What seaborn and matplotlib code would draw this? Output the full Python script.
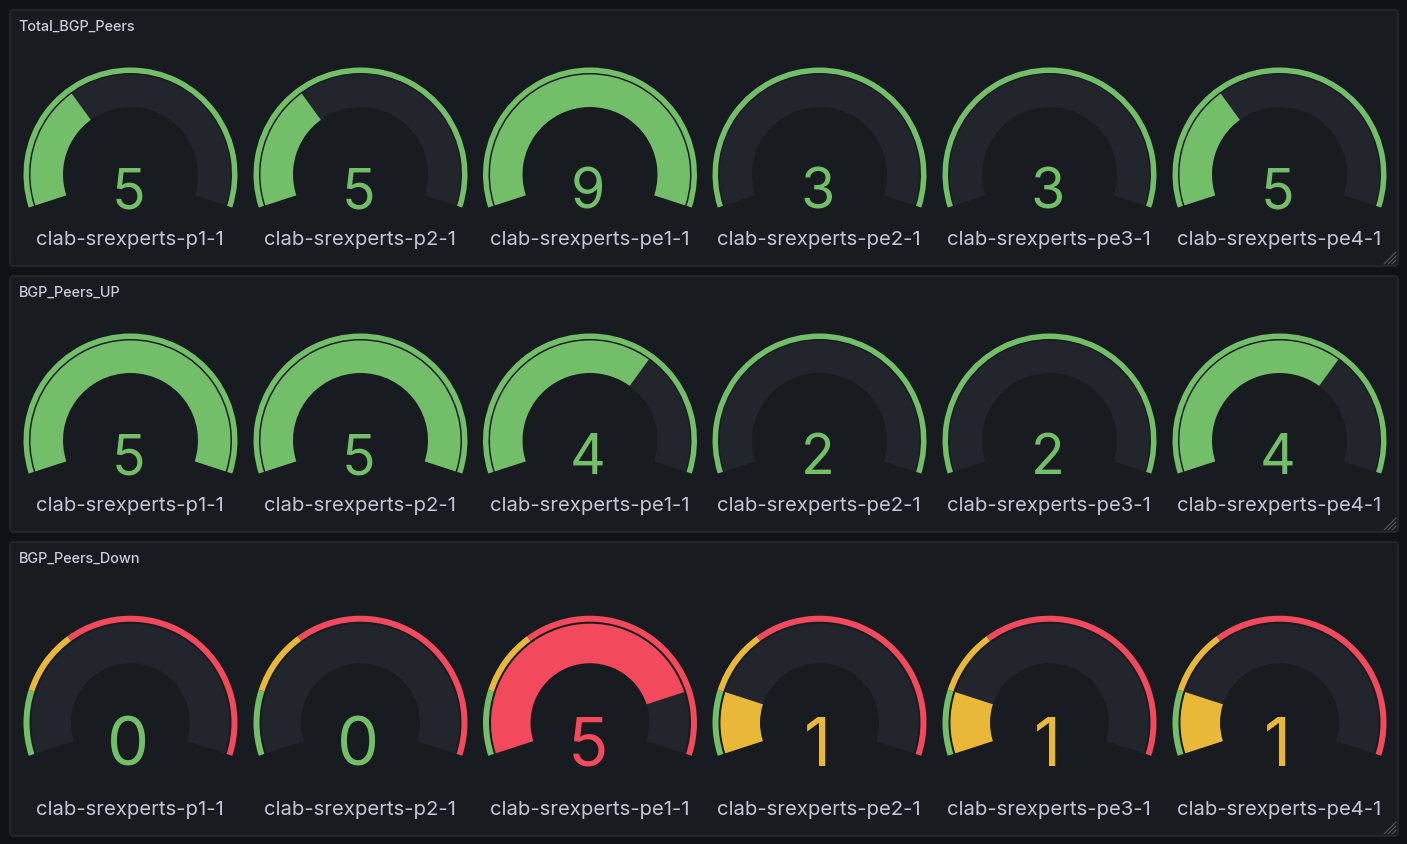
"""Grafana style BGP peer gauges, three panels with six gauges each."""
import matplotlib
matplotlib.use("Agg")
import matplotlib.pyplot as plt
from matplotlib.patches import FancyBboxPatch, Wedge
import seaborn as sns

# data
hosts = ["clab-srexperts-p1-1", "clab-srexperts-p2-1", "clab-srexperts-pe1-1",
         "clab-srexperts-pe2-1", "clab-srexperts-pe3-1", "clab-srexperts-pe4-1"]
titles = ["Total_BGP_Peers", "BGP_Peers_UP", "BGP_Peers_Down"]
total_peers = [5, 5, 9, 3, 3, 5]
peers_up = [5, 5, 4, 2, 2, 4]
peers_down = [0, 0, 5, 1, 1, 1]
down_thresholds = [0, 1, 2]

PAGE = "#111217"
PANEL = "#181b1f"
BORDER = "#2a2d33"
TRACK = "#22252b"
GREEN = "#73bf69"
YELLOW = "#eab839"
RED = "#f2495c"
TEXT = "#c4c6d4"
TITLE = "#ccccdc"

W, H = 1407, 844
SWEEP = 216
START = 198

# pixel layout: panel edges, gauge centre y, digit and label baselines, digit size, track radii
rows = [
    dict(top=10, bottom=266, cy=174.5, digit=208.5, label=245, size=40, r_out=100, r_in=67.5, ring=5.5),
    dict(top=276, bottom=532, cy=440.5, digit=474.5, label=511, size=40, r_out=100, r_in=67.5, ring=5.5),
    dict(top=542, bottom=836, cy=722.7, digit=765.5, label=815, size=48, r_out=99, r_in=59.5, ring=6),
]
centres = [130.5, 360.5, 590, 819.5, 1049.5, 1279.5]

sns.set_theme(style="dark", rc={"figure.facecolor": PAGE, "axes.facecolor": PAGE})
plt.rcParams["font.family"] = ["Inter", "DejaVu Sans"]


def angle(frac):
    return START - SWEEP * frac


def draw_gauge(ax, cx, row, value, lo, hi, colours, stops):
    y = H - row["cy"]
    frac = (value - lo) / (hi - lo)
    band = row["r_out"] - row["r_in"]
    # threshold ring
    for i, col in enumerate(colours):
        a = angle((stops[i] - lo) / (hi - lo))
        b = angle((stops[i + 1] - lo) / (hi - lo))
        ax.add_patch(Wedge((cx, y), 107, b, a, width=row["ring"], fc=col, ec="none"))
    ax.add_patch(Wedge((cx, y), row["r_out"], angle(1), angle(0), width=band, fc=TRACK, ec="none"))
    col = colours[0]
    for i in range(len(colours)):
        if value >= stops[i]:
            col = colours[i]
    if frac > 0:
        ax.add_patch(Wedge((cx, y), row["r_out"], angle(frac), angle(0), width=band, fc=col, ec="none"))
    return col


def draw_row(ax, row, title, values, lo, hi, colours, stops):
    panel = FancyBboxPatch((10, H - row["bottom"]), 1388, row["bottom"] - row["top"],
                           boxstyle="round,pad=0,rounding_size=4", fc=PANEL, ec=BORDER, lw=1)
    ax.add_patch(panel)
    ax.text(18.5, H - row["top"] - 21, title, color=TITLE, fontsize=10.4, fontweight="medium")
    for cx, host, val in zip(centres, hosts, values):
        col = draw_gauge(ax, cx, row, val, lo, hi, colours, stops)
        ax.text(cx - 2, H - row["digit"], str(val), color=col, fontsize=row["size"],
                ha="center", va="baseline")
        ax.text(cx - 0.5, H - row["label"], host, color=TEXT, fontsize=14.6, ha="center", va="baseline")
    # resize handle in the corner
    hx, hy = 1396, H - row["bottom"] + 2
    for d in (4, 8, 12):
        ax.plot([hx - d, hx], [hy, hy + d], color="#55575e", lw=0.8)


fig = plt.figure(figsize=(W / 100, H / 100), dpi=100)
ax = fig.add_axes([0, 0, 1, 1])
ax.set_xlim(0, W)
ax.set_ylim(0, H)
ax.set_aspect("equal")
ax.axis("off")

draw_row(ax, rows[0], titles[0], total_peers, min(total_peers), max(total_peers), [GREEN],
         [min(total_peers), max(total_peers)])
draw_row(ax, rows[1], titles[1], peers_up, min(peers_up), max(peers_up), [GREEN],
         [min(peers_up), max(peers_up)])
draw_row(ax, rows[2], titles[2], peers_down, 0, 6, [GREEN, YELLOW, RED], down_thresholds + [6])

fig.savefig("out.png", dpi=100, facecolor=PAGE)
plt.close(fig)
